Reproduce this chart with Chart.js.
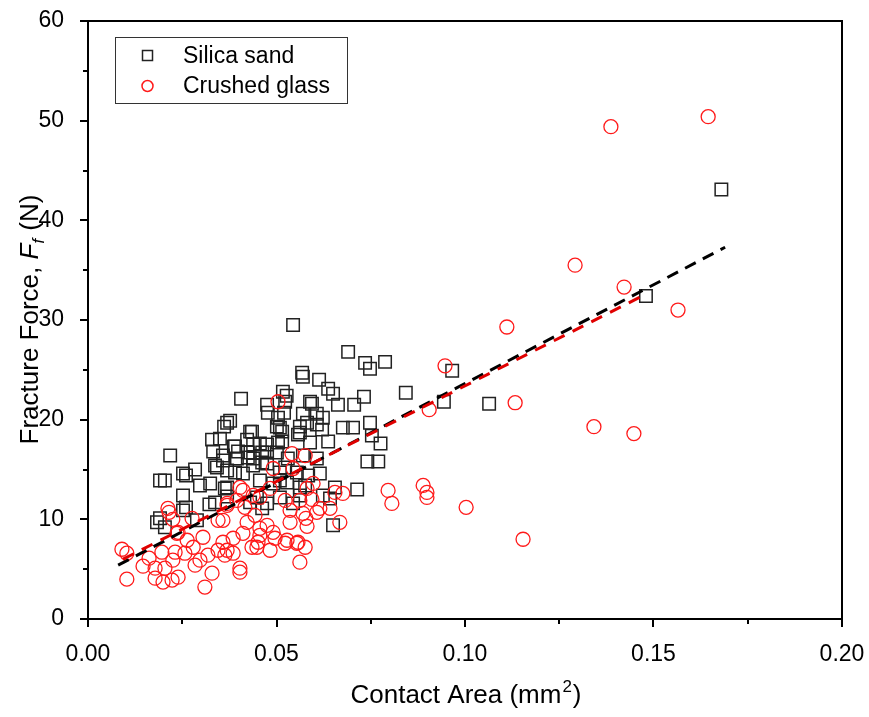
<!DOCTYPE html>
<html>
<head>
<meta charset="utf-8">
<script src="https://cdn.jsdelivr.net/npm/chart.js@4.4.0/dist/chart.umd.min.js"></script>
<style>
  html, body { margin: 0; padding: 0; background: #fff; }
</style>
</head>
<body>
<canvas id="scatterChart" width="869" height="717"></canvas>
<script>
// Silica sand (black squares)
var sandX = [0.168, 0.148, 0.0966, 0.0944, 0.1064, 0.0843, 0.0788, 0.0735, 0.0748, 0.069,
  0.0544, 0.0568, 0.057, 0.0613, 0.0637, 0.065, 0.0732, 0.0663, 0.0706, 0.0589,
  0.0594, 0.0517, 0.0523, 0.0475, 0.0477, 0.052, 0.057, 0.0607, 0.0623, 0.0504,
  0.0581, 0.0748, 0.0676, 0.0703, 0.0509, 0.0406, 0.0527, 0.0377, 0.0361, 0.043,
  0.035, 0.0387, 0.0332, 0.0218, 0.0504, 0.0456, 0.0475, 0.0424, 0.0358, 0.0284,
  0.0252, 0.0501, 0.0515, 0.0562, 0.0557, 0.0523, 0.0438, 0.0462, 0.0395, 0.0337,
  0.0369, 0.0329, 0.026, 0.0204, 0.0191, 0.0297, 0.0324, 0.0252, 0.0363, 0.0337,
  0.0191, 0.0252, 0.0183, 0.0289, 0.0204, 0.0369, 0.0322, 0.043, 0.0448, 0.0475,
  0.0509, 0.0544, 0.0562, 0.0509, 0.0456, 0.0411, 0.0342, 0.0369, 0.0435, 0.0422,
  0.039, 0.0438, 0.0475, 0.0515, 0.0562, 0.0607, 0.0621, 0.0589, 0.0637, 0.0358,
  0.0398, 0.0424, 0.0462, 0.0501, 0.053, 0.057, 0.0607, 0.0438, 0.0475, 0.0509,
  0.0554, 0.0584, 0.0615, 0.039, 0.0491, 0.0528, 0.0576, 0.0369, 0.0623, 0.0562,
  0.0462, 0.0714, 0.065, 0.0776, 0.077, 0.0741, 0.0753, 0.0655, 0.026, 0.0642];
var sandY = [43.1, 32.4, 24.9, 21.8, 21.6, 22.7, 25.8, 25.7, 25.1, 26.8,
  29.5, 24.7, 24.3, 24.0, 23.1, 22.6, 22.3, 21.5, 21.5, 21.8,
  21.6, 22.8, 21.8, 21.5, 20.7, 20.7, 20.6, 20.6, 20.2, 20.2,
  19.7, 19.7, 19.2, 19.2, 19.2, 22.1, 22.4, 19.9, 19.3, 18.8,
  18.1, 17.3, 16.8, 16.4, 17.7, 17.6, 16.7, 16.7, 15.9, 15.0,
  14.6, 19.3, 18.8, 19.3, 18.5, 15.2, 16.1, 15.7, 16.1, 15.4,
  14.9, 18.0, 14.4, 13.9, 13.9, 13.4, 13.6, 12.4, 13.1, 11.7,
  10.1, 10.9, 9.7, 9.9, 9.2, 12.3, 11.5, 11.7, 12.2, 11.6,
  12.2, 11.6, 13.2, 13.9, 13.9, 14.6, 15.2, 19.7, 18.8, 18.0,
  17.3, 17.5, 17.5, 17.8, 18.7, 19.5, 19.0, 17.7, 17.8, 16.4,
  16.8, 16.2, 16.7, 16.7, 16.1, 16.4, 16.1, 15.4, 15.6, 14.7,
  14.7, 14.4, 14.6, 14.7, 13.6, 13.7, 13.4, 13.2, 12.4, 12.4,
  11.1, 13.0, 9.4, 17.6, 15.8, 15.8, 18.4, 13.2, 11.2, 12.1];

// Crushed glass (red circles)
var glassX = [0.1645, 0.1387, 0.1292, 0.1422, 0.1565, 0.1111, 0.0947, 0.1133, 0.0905, 0.1342,
  0.1448, 0.0889, 0.0899, 0.0899, 0.1003, 0.1154, 0.0504, 0.0541, 0.0576, 0.0544,
  0.0491, 0.0597, 0.0655, 0.0676, 0.0796, 0.0806, 0.0523, 0.0562, 0.0594, 0.0536,
  0.0607, 0.0642, 0.057, 0.0536, 0.0668, 0.0581, 0.0528, 0.0557, 0.0576, 0.0369,
  0.0416, 0.0358, 0.0422, 0.0443, 0.0475, 0.0491, 0.0578, 0.0411, 0.0456, 0.0451,
  0.0435, 0.0483, 0.0385, 0.0358, 0.0369, 0.0385, 0.0554, 0.0562, 0.0403, 0.0403,
  0.009, 0.0103, 0.0103, 0.0146, 0.0162, 0.0178, 0.0178, 0.0199, 0.0204, 0.0196,
  0.0223, 0.0225, 0.0231, 0.0239, 0.0236, 0.0263, 0.0257, 0.0279, 0.0284, 0.0305,
  0.0297, 0.0318, 0.0329, 0.031, 0.0345, 0.0363, 0.0345, 0.0212, 0.0215, 0.0225,
  0.0239, 0.0276, 0.0411, 0.0438, 0.0456, 0.0448, 0.0483, 0.0496, 0.0523, 0.0581,
  0.0456, 0.0395, 0.0615, 0.0403, 0.0369];
var glassY = [50.4, 49.4, 35.5, 33.3, 31.0, 29.3, 25.4, 21.7, 21.0, 19.3,
  18.6, 13.4, 12.7, 12.2, 11.2, 8.0, 21.8, 16.6, 16.4, 15.1,
  15.1, 13.6, 12.7, 12.6, 12.9, 11.6, 11.9, 11.9, 12.0, 10.9,
  10.7, 11.1, 10.6, 9.7, 9.7, 9.3, 7.9, 7.7, 7.2, 11.4,
  11.2, 9.9, 9.7, 10.4, 9.4, 8.7, 10.1, 8.6, 9.1, 7.7,
  7.2, 6.9, 8.1, 7.7, 6.9, 6.6, 7.6, 5.7, 5.1, 4.7,
  7.0, 6.6, 4.0, 5.3, 6.1, 5.1, 4.1, 3.7, 5.1, 6.7,
  3.9, 5.9, 6.7, 4.2, 8.6, 7.9, 6.6, 7.2, 5.4, 8.2,
  5.9, 6.4, 4.6, 3.2, 6.9, 6.4, 9.9, 11.1, 10.7, 10.0,
  8.7, 10.1, 12.9, 12.4, 8.4, 7.2, 13.1, 8.1, 7.6, 13.1,
  12.2, 11.9, 11.1, 13.2, 11.6];

// fitted lines, end points
var sandFitX = [0.008, 0.169];
var sandFitY = [5.4, 37.3];
var glassFitX = [0.0093, 0.148];
var glassFitY = [6.0, 32.6];

var xTicks = [0, 0.05, 0.10, 0.15, 0.20];
var xMinorTicks = [0.025, 0.075, 0.125, 0.175];
var yTicks = [0, 10, 20, 30, 40, 50, 60];
var yMinorTicks = [5, 15, 25, 35, 45, 55];

var FONT = '"Liberation Sans", Arial, sans-serif';

function pairs(xs, ys) {
  return xs.map(function(x, i) { return {x: x, y: ys[i]}; });
}

// frame, tick marks, axis titles and boxed legend
var decorPlugin = {
  id: 'decor',
  afterDatasetsDraw: function(chart) {
    var ctx = chart.ctx;
    var a = chart.chartArea;
    var xs = chart.scales.x, ys = chart.scales.y;
    ctx.save();
    ctx.strokeStyle = '#000';
    ctx.lineWidth = 2;
    ctx.strokeRect(a.left, a.top, a.right - a.left, a.bottom - a.top);

    ctx.beginPath();
    xTicks.forEach(function(v) {
      var px = Math.round(xs.getPixelForValue(v));
      ctx.moveTo(px, a.bottom); ctx.lineTo(px, a.bottom + 8);
    });
    xMinorTicks.forEach(function(v) {
      var px = Math.round(xs.getPixelForValue(v));
      ctx.moveTo(px, a.bottom); ctx.lineTo(px, a.bottom + 5);
    });
    yTicks.forEach(function(v) {
      var py = Math.round(ys.getPixelForValue(v));
      ctx.moveTo(a.left, py); ctx.lineTo(a.left - 8, py);
    });
    yMinorTicks.forEach(function(v) {
      var py = Math.round(ys.getPixelForValue(v));
      ctx.moveTo(a.left, py); ctx.lineTo(a.left - 5, py);
    });
    ctx.stroke();

    // x title: Contact Area (mm²)
    ctx.fillStyle = '#000';
    ctx.textBaseline = 'alphabetic';
    ctx.textAlign = 'left';
    var big = '26px ' + FONT, small = '17px ' + FONT;
    ctx.font = big;
    var t1 = 'Contact Area (mm', t3 = ')';
    var w1 = ctx.measureText(t1).width, w3 = ctx.measureText(t3).width;
    ctx.font = small;
    var w2 = ctx.measureText('2').width;
    var cx = (a.left + a.right) / 2;
    var x0 = cx - (w1 + w2 + w3) / 2;
    var by = 703;
    ctx.font = big; ctx.fillText(t1, x0, by);
    ctx.font = small; ctx.fillText('2', x0 + w1 + 1, by - 11);
    ctx.font = big; ctx.fillText(t3, x0 + w1 + w2 + 2, by);

    // y title: Fracture Force, F_f (N)
    var it = 'italic 26px ' + FONT, itSmall = 'italic 17px ' + FONT;
    var p1 = 'Fracture Force, ', p4 = ' (N)';
    ctx.font = big; var q1 = ctx.measureText(p1).width, q4 = ctx.measureText(p4).width;
    ctx.font = it; var q2 = ctx.measureText('F').width;
    ctx.font = itSmall; var q3 = ctx.measureText('f').width;
    var total = q1 + q2 + q3 + q4;
    ctx.save();
    ctx.translate(38, (a.top + a.bottom) / 2);
    ctx.rotate(-Math.PI / 2);
    var sx = -total / 2;
    ctx.font = big; ctx.fillText(p1, sx, 0);
    ctx.font = it; ctx.fillText('F', sx + q1, 0);
    ctx.font = itSmall; ctx.fillText('f', sx + q1 + q2, 6);
    ctx.font = big; ctx.fillText(p4, sx + q1 + q2 + q3 + 1, 0);
    ctx.restore();

    // legend box
    ctx.lineWidth = 1;
    ctx.strokeStyle = '#333';
    ctx.strokeRect(115.5, 37.5, 232, 66);
    ctx.lineWidth = 1.5;
    ctx.strokeStyle = '#222';
    ctx.strokeRect(142.5, 50.5, 10, 10);
    ctx.strokeStyle = '#ff1a1a';
    ctx.beginPath();
    ctx.arc(147.5, 86, 5.5, 0, Math.PI * 2);
    ctx.stroke();
    ctx.font = '23px ' + FONT;
    ctx.fillStyle = '#000';
    ctx.fillText('Silica sand', 183, 63);
    ctx.fillText('Crushed glass', 183, 93);
    ctx.restore();
  }
};

var ctx = document.getElementById('scatterChart').getContext('2d');
var scatterChart = new Chart(ctx, {
  type: 'scatter',
  data: {
    datasets: [
      {
        label: 'Crushed glass fit',
        data: pairs(glassFitX, glassFitY),
        showLine: true,
        borderColor: '#e00000',
        borderWidth: 3,
        borderDash: [12, 9],
        pointRadius: 0,
        order: 0
      },
      {
        label: 'Silica sand fit',
        data: pairs(sandFitX, sandFitY),
        showLine: true,
        borderColor: '#000',
        borderWidth: 3,
        borderDash: [12, 8],
        pointRadius: 0,
        order: 1
      },
      {
        label: 'Crushed glass',
        data: pairs(glassX, glassY),
        pointStyle: 'circle',
        pointRadius: 7,
        borderWidth: 1.3,
        borderColor: '#ff1a1a',
        backgroundColor: 'rgba(0,0,0,0)',
        order: 2
      },
      {
        label: 'Silica sand',
        data: pairs(sandX, sandY),
        pointStyle: 'rect',
        pointRadius: 8.8,
        borderWidth: 1.5,
        borderColor: '#222',
        backgroundColor: 'rgba(0,0,0,0)',
        order: 3
      }
    ]
  },
  options: {
    responsive: false,
    animation: false,
    layout: {
      padding: { top: 21, right: 27, left: 0, bottom: 0 }
    },
    plugins: {
      legend: { display: false },
      tooltip: { enabled: false }
    },
    scales: {
      x: {
        type: 'linear',
        min: 0,
        max: 0.2,
        grid: { display: false },
        border: { display: false },
        afterBuildTicks: function(scale) {
          scale.ticks = xTicks.map(function(v) { return {value: v}; });
        },
        afterFit: function(scale) {
          scale.height = 98;
          scale.paddingLeft = 0;
          scale.paddingRight = 0;
        },
        ticks: {
          color: '#000',
          padding: 14,
          maxRotation: 0,
          font: { family: FONT, size: 23 },
          callback: function(v) { return Number(v).toFixed(2); }
        }
      },
      y: {
        type: 'linear',
        min: 0,
        max: 60,
        grid: { display: false },
        border: { display: false },
        afterBuildTicks: function(scale) {
          scale.ticks = yTicks.map(function(v) { return {value: v}; });
        },
        afterFit: function(scale) {
          scale.width = 88;
          scale.paddingTop = 0;
          scale.paddingBottom = 0;
        },
        ticks: {
          color: '#000',
          padding: 16,
          font: { family: FONT, size: 23 },
          callback: function(v) { return v; }
        }
      }
    }
  },
  plugins: [decorPlugin]
});
</script>
</body>
</html>
